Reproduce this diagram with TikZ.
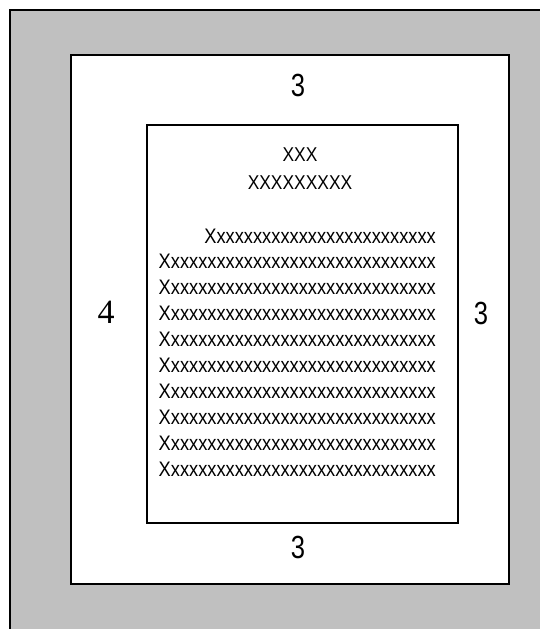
\documentclass[tikz,border=0pt]{standalone}
\usepackage{fontspec}
\setmainfont{Liberation Sans}
\newfontfamily\serifnum{Liberation Serif}
\definecolor{bggray}{RGB}{192,192,192}
\newcommand{\narrowtxt}[1]{\scalebox{0.87}[1]{#1}}
\newcommand{\narrowdig}[1]{\scalebox{0.8}[1]{#1}}
\begin{document}
\begin{tikzpicture}[x=1pt,y=-1pt,
  frame/.style={draw=black,line width=2pt},
  body/.style={font=\fontsize{21}{24}\selectfont,inner sep=0pt,anchor=east},
  title/.style={font=\fontsize{20}{24}\selectfont,inner sep=0pt},
  margin/.style={font=\fontsize{32}{34}\selectfont,inner sep=0pt}]
\useasboundingbox (0,0) rectangle (539,629);
\fill[white] (0,0) rectangle (539,629);
\fill[bggray] (10,10) rectangle (545,640);
\draw[line width=2.5pt] (10,640) -- (10,10) -- (560,10);
\node[frame,fill=white,minimum width=438pt,minimum height=529pt,inner sep=0pt,anchor=north west] (page) at (70,54) {};
\node[frame,fill=white,minimum width=311pt,minimum height=398pt,inner sep=0pt,anchor=north west] (text) at (146,124) {};
\node[margin] (mtop) at (298,85) {\narrowdig{3}};
\node[margin] (mbot) at (298,547) {\narrowdig{3}};
\node[margin] (mright) at (481,313) {\narrowdig{3}};
\node[margin,font=\serifnum\fontsize{34}{36}\selectfont] (mleft) at (106,312) {4};
\node[title] (t1) at (300,155) {\narrowtxt{XXX}};
\node[title] (t2) at (300,183) {\narrowtxt{XXXXXXXXX}};
\node[body] (l0) at (436,236) {\narrowtxt{Xxxxxxxxxxxxxxxxxxxxxxxxx}};
\foreach \i/\y in {1/261.5,2/287.5,3/313.5,4/339.5,5/365.5,6/391.5,7/417.5,8/443.5,9/469.5}{
  \node[body] (l\i) at (436,\y) {\narrowtxt{Xxxxxxxxxxxxxxxxxxxxxxxxxxxxxx}};
}
\end{tikzpicture}
\end{document}
